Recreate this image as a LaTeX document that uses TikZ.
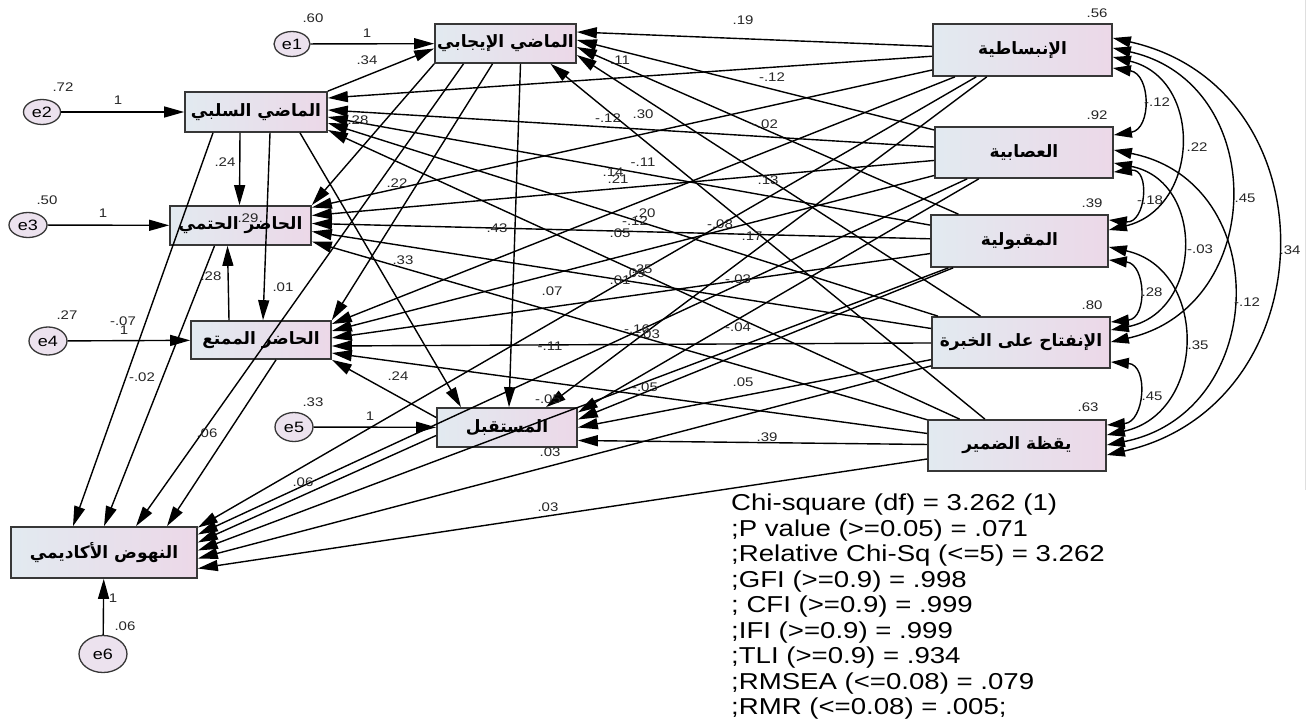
\documentclass[tikz,border=0pt]{standalone}
\usepackage{fontspec}
\usetikzlibrary{arrows.meta,shapes.geometric,calc}
\TeXXeTstate=1
\setmainfont{Liberation Sans}
\newfontfamily\arabicfont[Script=Arabic]{DejaVu Sans}
\newfontfamily\latinw[FakeStretch=1.2]{Liberation Sans}
\newcommand\artext[1]{{\arabicfont\bfseries\fontsize{17}{19}\selectfont\beginR #1\endR}}
\definecolor{boxL}{RGB}{226,234,240}
\definecolor{boxR}{RGB}{236,216,232}
\definecolor{errfill}{RGB}{236,226,238}
\definecolor{bord}{RGB}{55,55,55}
\tikzset{
  var/.style={rectangle, draw=bord, line width=1.7pt, left color=boxL, right color=boxR, inner sep=0pt},
  err/.style={ellipse, draw=bord, line width=1.3pt, fill=errfill, inner sep=0pt, font=\latinw\fontsize{15}{15}\selectfont},
  pth/.style={-{Triangle[length=20pt,width=11pt]}, line width=1.4pt},
  cov/.style={{Triangle[length=18pt,width=11pt]}-{Triangle[length=18pt,width=11pt]}, line width=1.4pt},
  lbl/.style={font=\latinw\fontsize{12.5}{13}\selectfont, inner sep=0pt, text=black!85}
}
\begin{document}
\begin{tikzpicture}[x=1pt,y=-1pt]
\useasboundingbox[fill=white] (0,0) rectangle (1312,725);
\draw[gray!25, line width=0.6pt] (1305,0) -- (1305,490);
% endogenous variables
\node[var, minimum width=141pt, minimum height=39pt] (PP) at (505.5,43.5) {\artext{الماضي الإيجابي}};
\node[var, minimum width=142pt, minimum height=40pt] (PN) at (256,112) {\artext{الماضي السلبي}};
\node[var, minimum width=141pt, minimum height=39pt] (PF) at (240.5,225.5) {\artext{الحاضر الحتمي}};
\node[var, minimum width=140pt, minimum height=38pt] (PH) at (261,340) {\artext{الحاضر الممتع}};
\node[var, minimum width=140pt, minimum height=39pt] (FU) at (507,427.5) {\artext{المستقبل}};
\node[var, minimum width=186pt, minimum height=51pt] (AB) at (104,552.5) {\artext{النهوض الأكاديمي}};
% exogenous variables
\node[var, minimum width=179pt, minimum height=52pt] (EX) at (1022.5,50) {\artext{الإنبساطية}};
\node[var, minimum width=178pt, minimum height=51pt] (NE) at (1024,152.5) {\artext{العصابية}};
\node[var, minimum width=177pt, minimum height=52pt] (AG) at (1019.5,241) {\artext{المقبولية}};
\node[var, minimum width=178pt, minimum height=51pt] (OP) at (1021,342.5) {\artext{الإنفتاح على الخبرة}};
\node[var, minimum width=178pt, minimum height=51pt] (CO) at (1017,445.5) {\artext{يقظة الضمير}};
% errors
\node[err, minimum width=36pt, minimum height=25pt] (e1) at (292,44) {e1};
\node[err, minimum width=37pt, minimum height=25pt] (e2) at (42,112) {e2};
\node[err, minimum width=38pt, minimum height=25pt] (e3) at (28,225) {e3};
\node[err, minimum width=38pt, minimum height=28pt] (e4) at (48,341) {e4};
\node[err, minimum width=38pt, minimum height=29pt] (e5) at (294,427) {e5};
\node[err, minimum width=48pt, minimum height=37pt] (e6) at (103,654) {e6};
% error paths
\draw[pth] (e1) -- (PP);
\draw[pth] (e2) -- (PN);
\draw[pth] (e3) -- (PF);
\draw[pth] (e4) -- (PH);
\draw[pth] (e5) -- (FU);
\draw[pth] (e6) -- (AB);
% internal paths
\draw[pth] (PN.north east) -- ([yshift=-5pt]PP.west);
\draw[pth] ([xshift=-16pt]PN.south) -- ([xshift=-1pt]PF.north);
\draw[pth] ([xshift=14pt]PN.south) -- ([xshift=2pt]PH.north);
\draw[pth] ([xshift=44pt]PN.south) -- ([xshift=-46pt]FU.north);
\draw[pth] ([xshift=-43pt]PN.south) -- ([xshift=-31pt]AB.north);
\draw[pth] ([xshift=-32pt]PH.north) -- ([xshift=-13pt]PF.south);
\draw[pth] ([xshift=-26pt]PF.south) -- (AB.north);
\draw[pth] ([xshift=15pt]PH.south) -- ([xshift=63pt]AB.north);
\draw[pth] ([xshift=-42pt]PP.south) -- ([xshift=32pt]AB.north);
\draw[pth] (PP.south west) -- (PF.north east);
\draw[pth] ([xshift=-13pt]PP.south) -- (PH.north east);
\draw[pth] ([xshift=15pt]PP.south) -- ([xshift=2pt]FU.north);
\draw[pth] ([yshift=10pt]FU.west) -- (PH.south east);
\draw[pth] ([yshift=-8pt]FU.west) -- ([yshift=10pt]AB.east);
% traits -> PP
\draw[pth] (EX) -- ([yshift=11.5pt]PP.east);
\draw[pth] (NE) -- ([yshift=3.5pt]PP.east);
\draw[pth] (AG) -- ([yshift=-3.5pt]PP.east);
\draw[pth] (OP) -- ([yshift=-11.5pt]PP.east);
\draw[pth] (CO) -- ([xshift=45pt]PP.south);
% traits -> PN
\draw[pth] (EX) -- ([yshift=14pt]PN.east);
\draw[pth] (NE) -- ([yshift=2pt]PN.east);
\draw[pth] (AG) -- ([yshift=-5pt]PN.east);
\draw[pth] (OP) -- ([yshift=-11pt]PN.east);
\draw[pth] (CO) -- ([yshift=-18pt]PN.east);
% traits -> PF
\draw[pth] (EX) -- ([yshift=18pt]PF.east);
\draw[pth] (NE) -- ([yshift=10pt]PF.east);
\draw[pth] (AG) -- ([yshift=2pt]PF.east);
\draw[pth] (OP) -- ([yshift=-6pt]PF.east);
\draw[pth] (CO) -- ([yshift=-16pt]PF.east);
% traits -> PH
\draw[pth] (EX) -- ([yshift=16pt]PH.east);
\draw[pth] (NE) -- ([yshift=9pt]PH.east);
\draw[pth] (AG) -- ([yshift=2pt]PH.east);
\draw[pth] (OP) -- ([yshift=-6pt]PH.east);
\draw[pth] (CO) -- ([yshift=-13pt]PH.east);
% traits -> FU
\draw[pth] (EX) -- ([xshift=39pt]FU.north);
\draw[pth] (NE) -- ([yshift=15pt]FU.east);
\draw[pth] (AG) -- ([yshift=8pt]FU.east);
\draw[pth] (OP) -- (FU.east);
\draw[pth] (CO) -- ([yshift=-13pt]FU.east);
% traits -> AB
\draw[pth] (EX) -- ([yshift=25pt]AB.east);
\draw[pth] (NE) -- ([yshift=18pt]AB.east);
\draw[pth] (AG) -- ([yshift=2pt]AB.east);
\draw[pth] (OP) -- ([yshift=-6pt]AB.east);
\draw[pth] (CO) -- ([yshift=-16pt]AB.east);
% covariances
\draw[cov] ([yshift=-18pt]EX.east) .. controls +(38,6) and +(38,-6) .. ([yshift=17.5pt]NE.east);
\draw[cov] ([yshift=-7pt]EX.east) .. controls +(91,22) and +(91,-22) .. ([yshift=11pt]AG.east);
\draw[cov] ([yshift=2pt]EX.east) .. controls +(157,35) and +(157,-35) .. ([yshift=0.5pt]OP.east);
\draw[cov] ([yshift=12pt]EX.east) .. controls +(222,50) and +(222,-50) .. ([yshift=-9.5pt]CO.east);
\draw[cov] ([yshift=-19.5pt]NE.east) .. controls +(37,-4) and +(37,4) .. ([yshift=21pt]AG.east);
\draw[cov] ([yshift=-10.5pt]NE.east) .. controls +(92,18) and +(92,-18) .. ([yshift=12.5pt]OP.east);
\draw[cov] ([yshift=2.5pt]NE.east) .. controls +(162,32) and +(162,-32) .. ([yshift=0.5pt]CO.east);
\draw[cov] ([yshift=-19pt]AG.east) .. controls +(37,4) and +(37,-4) .. ([yshift=20.5pt]OP.east);
\draw[cov] ([yshift=-6pt]AG.east) .. controls +(100,22) and +(100,-22) .. ([yshift=10.5pt]CO.east);
\draw[cov] ([yshift=-19.5pt]OP.east) .. controls +(38,3) and +(38,-3) .. ([yshift=20.5pt]CO.east);
% labels
\foreach \x/\y/\t [count=\i] in {
 313/18/.60, 367/33/1, 367/60/.34, 63/87/.72, 118/100/1, 358/120/.28, 225/162/.24,
 47/200/.50, 103/213/1, 248/218/.29, 397/183/.22, 211/276/.28, 283/287/.01, 403/260/.33,
 67/315/.27, 123/321/-.07, 124/330/1, 142/377/-.02, 207/433/.06, 313/402/.33, 370/416/1,
 398/376/.24, 303/482/.06, 550/452/.03, 548/507/.03, 113/598/1, 125/626/.06,
 743/20/.19, 620/60/.11, 772/77/-.12, 608/118/-.12, 643/114/.30, 765/124/-.02,
 643/162/-.11, 613/172/.14, 618/179/.21, 768/180/.13, 645/213/.20, 635/221/-.12,
 720/224/-.08, 497/228/.43, 620/233/.05, 752/236/.17,
 642/269/.25, 635/273/.09, 620/280/.01, 738/279/-.03, 552/291/.07, 637/329/-.16,
 647/334/-.03, 738/327/-.04, 550/346/-.11, 743/382/.05, 645/387/-.05, 548/399/-.05,
 767/437/.39,
 1097/13/.56, 1097/115/.92, 1092/203/.39, 1092/305/.80, 1088/407/.63,
 1157/102/-.12, 1197/147/.22, 1245/198/.45, 1290/250/.34, 1150/200/-.18,
 1200/249/-.03, 1247/302/-.12, 1152/292/.28, 1198/345/.35, 1152/396/.45}
 \node[lbl] (lab\i) at (\x,\y) {\t};
% fit statistics
\node[anchor=north west, align=left, inner sep=0pt, font=\latinw\fontsize{23}{25.5}\selectfont] (fit) at (731,494) {Chi-square (df) = 3.262 (1)\\;P value (>=0.05) = .071\\;Relative Chi-Sq (<=5) = 3.262\\;GFI (>=0.9) = .998\\; CFI (>=0.9) = .999\\;IFI (>=0.9) = .999\\;TLI (>=0.9) = .934\\;RMSEA (<=0.08) = .079\\;RMR (<=0.08) = .005;};
\end{tikzpicture}
\end{document}
